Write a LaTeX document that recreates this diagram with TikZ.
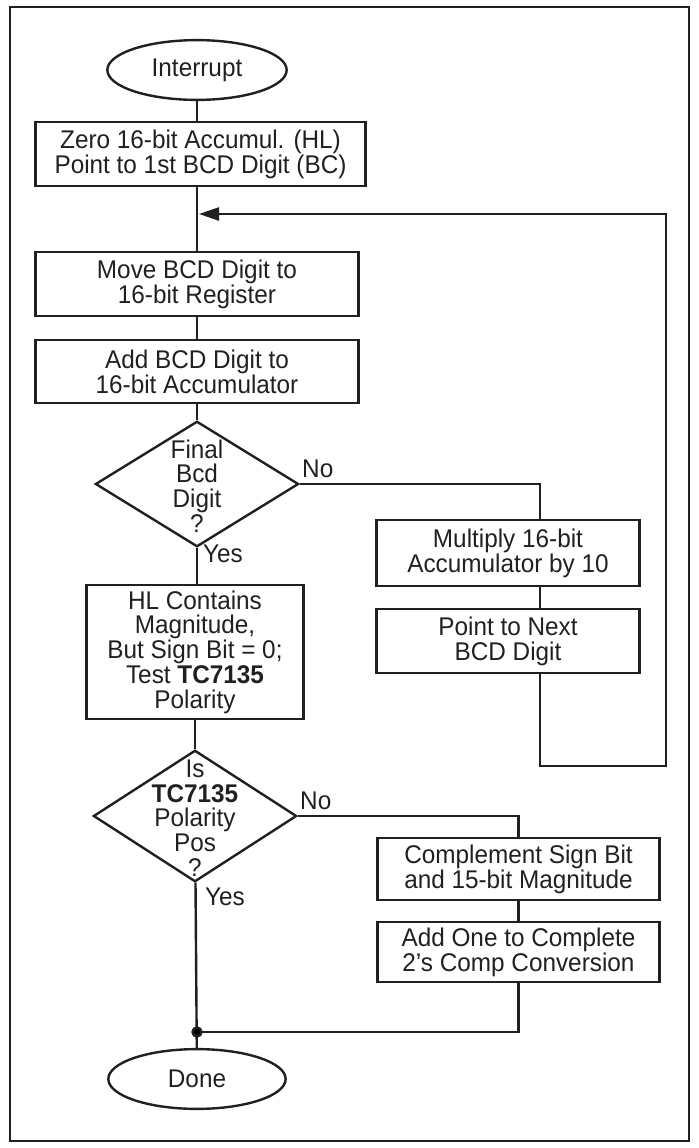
\documentclass[tikz,border=0pt]{standalone}
\usepackage{fontspec}
\setmainfont[FakeStretch=0.95]{Liberation Sans}
\usetikzlibrary{shapes.geometric,arrows.meta}
\definecolor{ln}{HTML}{231F20}
\begin{document}
\begin{tikzpicture}[x=1bp,y=-1bp,
  every node/.style={font=\fontsize{25.6bp}{24.8bp}\selectfont, text=ln},
  ln/.style={draw=ln, line width=2.4bp},
  stepbox/.style={ln, rectangle, inner sep=0pt, align=center},
  term/.style={ln, ellipse, inner sep=0pt},
  dia/.style={ln, diamond, inner sep=0pt},
  txt/.style={align=center, inner sep=0pt},
  conn/.style={draw=ln, line width=2.4bp}]
\useasboundingbox (0,0) rectangle (699,1148);
\draw[draw=ln, line width=2bp] (10,7) rectangle (689,1141);

\node[term, minimum width=180, minimum height=60] (start) at (197,70) {Interrupt};
\node[stepbox, minimum width=331, minimum height=64] (b1) at (200.5,154) {Zero 16-bit Accumul. (HL)\\Point to 1st BCD Digit (BC)};
\node[stepbox, minimum width=324, minimum height=64] (b2) at (197,284) {Move BCD Digit to\\16-bit Register};
\node[stepbox, minimum width=324, minimum height=63] (b3) at (197,371.5) {Add BCD Digit to\\16-bit Accumulator};
\node[dia, minimum width=204, minimum height=126] (d1) at (197,484) {};
\node[txt] (d1t) at (197,486) {Final\\Bcd\\Digit\\?};
\node[stepbox, minimum width=264, minimum height=66] (mul) at (508,553) {Multiply 16-bit\\Accumulator by 10};
\node[stepbox, minimum width=264, minimum height=64] (pt) at (508,641) {Point to Next\\BCD Digit};
\node[stepbox, minimum width=218, minimum height=134] (hl) at (195,652) {HL Contains\\Magnitude,\\But Sign Bit = 0;\\Test \textbf{TC7135}\\Polarity};
\node[dia, minimum width=204, minimum height=132] (d2) at (195,816) {};
\node[txt] (d2t) at (195,818) {Is\\\textbf{TC7135}\\Polarity\\Pos\\?};
\node[stepbox, minimum width=283, minimum height=62] (cmp) at (518.5,869) {Complement Sign Bit\\and 15-bit Magnitude};
\node[stepbox, minimum width=283, minimum height=60] (add) at (518.5,952) {Add One to Complete\\2's Comp Conversion};
\node[term, minimum width=178, minimum height=60] (done) at (197,1079) {Done};

\node[txt, anchor=south west] (no1) at (302,478) {No};
\node[txt, anchor=north west] (yes1) at (203,545) {Yes};
\node[txt, anchor=south west] (no2) at (300,810) {No};
\node[txt, anchor=north west] (yes2) at (205,888) {Yes};

\coordinate (lx) at (540,0);
\coordinate (lb) at (666,766);
\coordinate (tip) at (199,214);
\coordinate (junc) at (197,1032);

\draw[conn] (start) -- (start |- b1.north);
\draw[conn] (b1.south -| start) -- (b2.north);
\draw[conn] (b2) -- (b3);
\draw[conn] (b3) -- (d1);
\draw[conn] (d1) -- (hl.north -| d1);
\draw[conn] (hl.south -| d2) -- (d2);
\draw[conn] (d2) -- (done);
\draw[conn] (d1.east) -| (mul.north -| lx);
\draw[conn] (mul.south -| lx) -- (pt.north -| lx);
\draw[conn, -{Triangle[length=20bp,width=13bp]}] (pt.south -| lx) |- (lb) |- (tip);
\draw[conn] (d2.east) -| (cmp.north);
\draw[conn] (cmp) -- (add);
\draw[conn] (add) |- (junc);
\fill[ln] (junc) circle (4.5bp);
\end{tikzpicture}
\end{document}
